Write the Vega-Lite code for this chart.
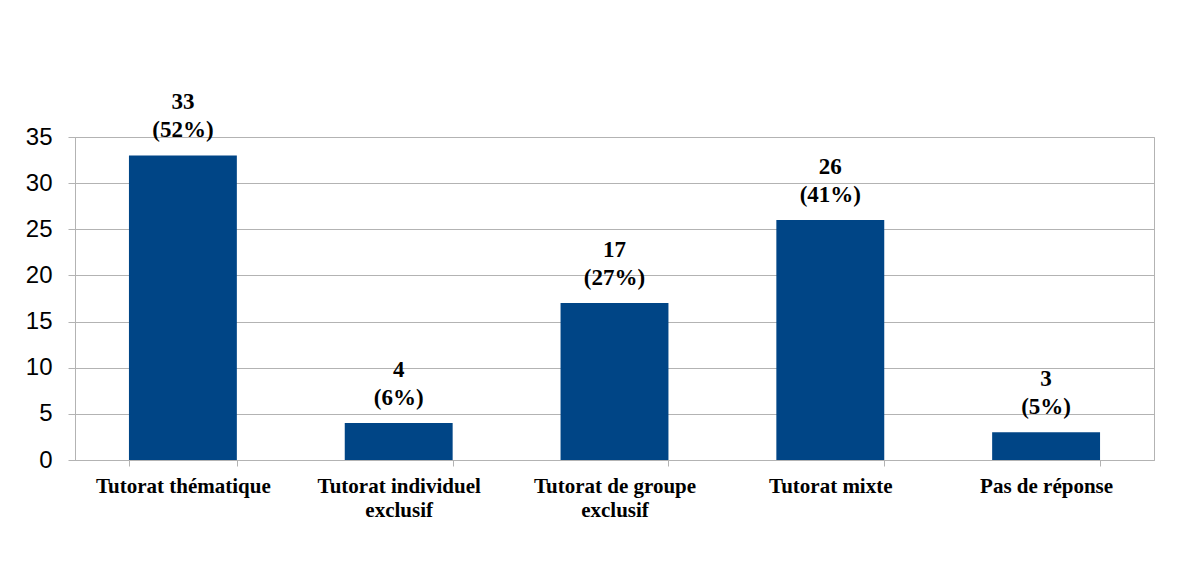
{
  "$schema": "https://vega.github.io/schema/vega-lite/v6.json",
  "autosize": {"type": "none"},
  "padding": {"left": 75, "top": 137, "right": 38, "bottom": 120},
  "width": 1079,
  "height": 323,
  "background": "white",
  "data": {
    "values": [
      {"category": "Tutorat thématique", "count": 33, "pct": 52},
      {"category": "Tutorat individuel exclusif", "count": 4, "pct": 6},
      {"category": "Tutorat de groupe exclusif", "count": 17, "pct": 27},
      {"category": "Tutorat mixte", "count": 26, "pct": 41},
      {"category": "Pas de réponse", "count": 3, "pct": 5}
    ]
  },
  "transform": [
    {"calculate": "datum.count + '\\n(' + datum.pct + '%)'", "as": "label"}
  ],
  "encoding": {
    "x": {
      "field": "category",
      "type": "nominal",
      "sort": null,
      "scale": {"paddingInner": 0.5, "paddingOuter": 0.25},
      "axis": {
        "title": null,
        "labelAngle": 0,
        "labelFont": "Liberation Serif",
        "labelFontWeight": "bold",
        "labelFontSize": 21,
        "labelColor": "black",
        "labelLineHeight": 24,
        "labelPadding": 9,
        "labelBaseline": "top",
        "tickBand": "extent",
        "tickSize": 6,
        "tickColor": "#b3b3b3",
        "domainColor": "#b3b3b3",
        "labelExpr": "datum.label == 'Tutorat individuel exclusif' ? ['Tutorat individuel', 'exclusif'] : datum.label == 'Tutorat de groupe exclusif' ? ['Tutorat de groupe', 'exclusif'] : datum.label"
      }
    },
    "y": {
      "field": "count",
      "type": "quantitative",
      "scale": {"domain": [0, 35], "nice": false},
      "axis": {
        "title": null,
        "values": [0, 5, 10, 15, 20, 25, 30, 35],
        "labelFont": "Liberation Sans",
        "labelFontSize": 24,
        "labelColor": "black",
        "labelPadding": 16,
        "tickSize": 7,
        "tickColor": "#b3b3b3",
        "domainColor": "#b3b3b3",
        "gridColor": "#b3b3b3",
        "grid": true
      }
    }
  },
  "layer": [
    {"mark": {"type": "bar", "color": "#004586"}},
    {
      "mark": {
        "type": "text",
        "font": "Liberation Serif",
        "fontWeight": "bold",
        "fontSize": 23,
        "lineBreak": "\n",
        "lineHeight": 28,
        "baseline": "alphabetic",
        "dy": -46,
        "color": "black"
      },
      "encoding": {"text": {"field": "label"}}
    }
  ],
  "config": {
    "view": {"stroke": "#b3b3b3"},
    "axis": {"gridWidth": 1}
  }
}
